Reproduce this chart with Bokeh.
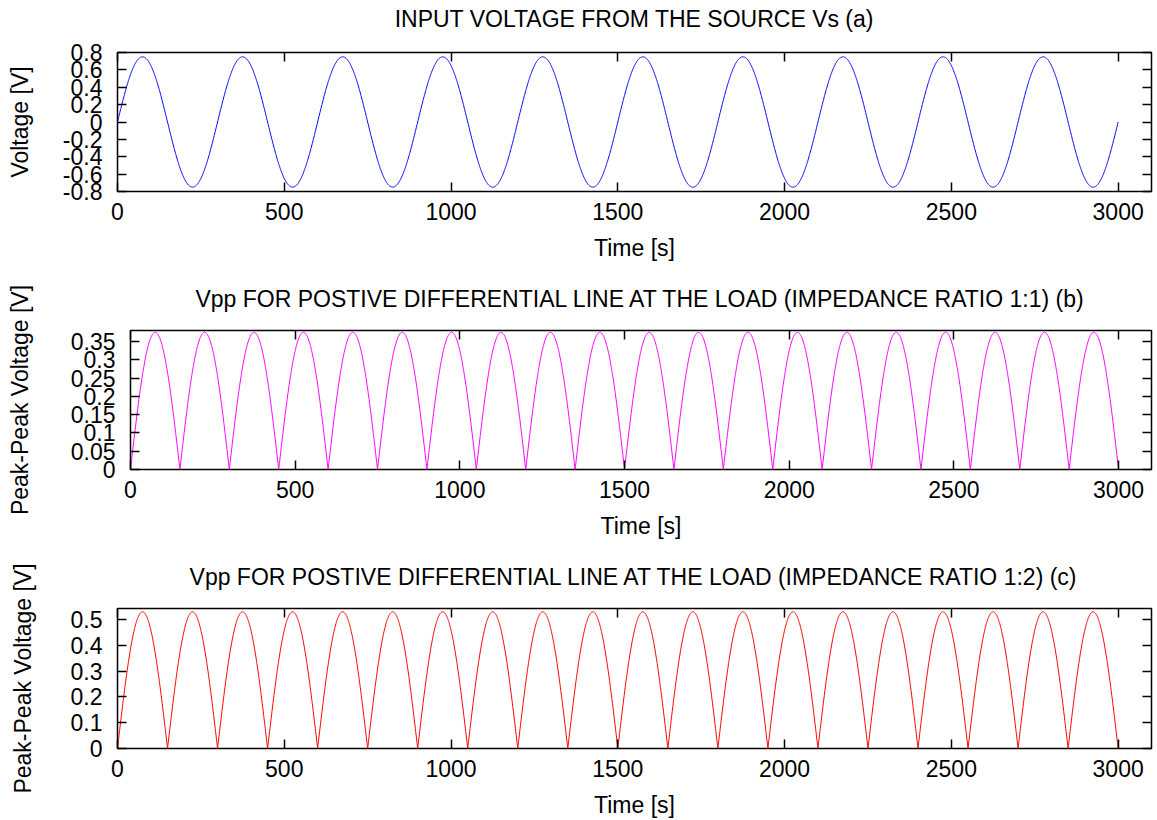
import numpy as np
from bokeh.plotting import figure
from bokeh.layouts import column
from bokeh.models import LinearAxis, FixedTicker, CustomJSTickFormatter, Range1d
from bokeh.embed import file_html
from bokeh.resources import INLINE

# ---- data ----
time_end = 3000          # s, last sample
n_samples = 3001
source_amplitude = 0.75  # V, panel (a)
source_period = 300      # s
peak_b = 0.375           # V, panel (b) rectified peak
peak_c = 0.53            # V, panel (c) rectified peak

titles = ["INPUT VOLTAGE FROM THE SOURCE Vs (a)",
          "Vpp FOR POSTIVE DIFFERENTIAL LINE AT THE LOAD (IMPEDANCE RATIO 1:1) (b)",
          "Vpp FOR POSTIVE DIFFERENTIAL LINE AT THE LOAD (IMPEDANCE RATIO 1:2) (c)"]
ylabels = ["Voltage [V]", "Peak-Peak Voltage [V]", "Peak-Peak Voltage [V]"]
xlabel = "Time [s]"
x_ticks = [0, 500, 1000, 1500, 2000, 2500, 3000]
y_ticks_a = [-0.8, -0.6, -0.4, -0.2, 0, 0.2, 0.4, 0.6, 0.8]
y_ticks_b = [0, 0.05, 0.1, 0.15, 0.2, 0.25, 0.3, 0.35]
y_ticks_c = [0, 0.1, 0.2, 0.3, 0.4, 0.5]
colors = ["#0000ff", "#ff00ff", "#ff0000"]

t = np.linspace(0, time_end, n_samples)
vs = source_amplitude * np.sin(2 * np.pi * t / source_period)
vb = peak_b * np.abs(np.sin(2 * np.pi * t / source_period))
vc = peak_c * np.abs(np.sin(2 * np.pi * t / source_period))

FONT = "Liberation Sans"
FS = "23px"

fmt_code = """
var s = tick.toFixed(2);
s = s.replace(/0+$/, '').replace(/\\.$/, '');
if (s == '-0') s = '0';
return s;
"""
blank_code = "return '';"


def make_panel(title, ylabel, y, yr, yticks, color, height, left, top, bottom,
               title_standoff, ylab_standoff):
    p = figure(width=1157, height=height, output_backend="svg", toolbar_location=None,
               x_range=Range1d(0, 3100), y_range=Range1d(*yr),
               min_border_left=left, min_border_right=6,
               min_border_top=top, min_border_bottom=bottom, frame_align=False)
    p.line(t, y, line_color=color, line_width=1)
    p.grid.visible = False
    p.background_fill_color = "white"
    p.border_fill_color = "white"
    p.outline_line_color = "black"
    p.outline_line_width = 1.5

    bottom_ax = p.below[0]
    left_ax = p.left[0]
    bottom_ax.ticker = FixedTicker(ticks=x_ticks)
    left_ax.ticker = FixedTicker(ticks=yticks)
    left_ax.formatter = CustomJSTickFormatter(code=fmt_code)

    # mirrored tick marks (no labels); the top one carries the panel title
    top_ax = LinearAxis(ticker=FixedTicker(ticks=x_ticks),
                        formatter=CustomJSTickFormatter(code=blank_code))
    right_ax = LinearAxis(ticker=FixedTicker(ticks=yticks),
                          formatter=CustomJSTickFormatter(code=blank_code))
    p.add_layout(top_ax, "above")
    p.add_layout(right_ax, "right")

    for ax in (bottom_ax, left_ax, top_ax, right_ax):
        ax.axis_line_color = None
        ax.major_tick_in = 9
        ax.major_tick_out = 0
        ax.major_tick_line_color = "black"
        ax.major_tick_line_width = 1.5
        ax.minor_tick_line_color = None
        ax.major_label_text_font = FONT
        ax.major_label_text_font_size = FS
        ax.major_label_text_color = "black"
        ax.axis_label_text_font = FONT
        ax.axis_label_text_font_size = FS
        ax.axis_label_text_font_style = "normal"
        ax.axis_label_text_color = "black"
    top_ax.major_label_standoff = 0
    right_ax.major_label_standoff = 0
    top_ax.axis_label = title
    top_ax.axis_label_standoff = title_standoff

    bottom_ax.axis_label = xlabel
    bottom_ax.major_label_standoff = 11
    bottom_ax.axis_label_standoff = 12
    left_ax.axis_label = ylabel
    left_ax.major_label_standoff = 15
    left_ax.axis_label_standoff = ylab_standoff
    return p


pa = make_panel(titles[0], ylabels[0], vs, (-0.8, 0.8), y_ticks_a, colors[0],
                270, 117, 52, 79, 21, 27)
pb = make_panel(titles[1], ylabels[1], vb, (0, 0.38), y_ticks_b, colors[1],
                280, 130, 60, 81, 19, 35)
pc = make_panel(titles[2], ylabels[2], vc, (0, 0.543), y_ticks_c, colors[2],
                270, 117, 58, 72, 19, 32)

layout = column(pa, pb, pc, spacing=0)
open("out.html", "w").write(file_html(layout, INLINE))
